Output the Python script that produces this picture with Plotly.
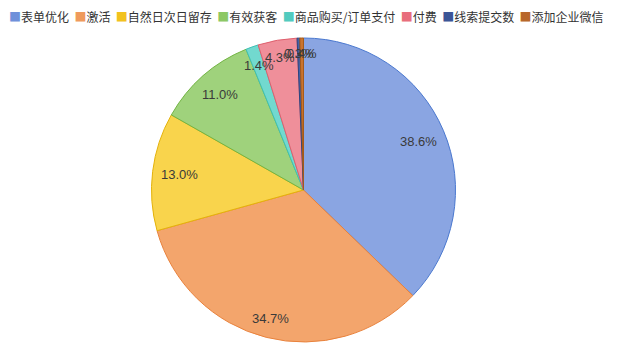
import math
import plotly.graph_objects as go

# ---- data ----
categories = ["表单优化", "激活", "自然日次日留存", "有效获客",
              "商品购买/订单支付", "付费", "线索提交数", "添加企业微信"]
values = [38.6, 34.7, 13.0, 11.0, 1.4, 4.3, 0.3, 0.4]
label_texts = [f"{v:.1f}%" for v in values]

# ---- styles ----
fill_colors = ["#8aa5e2", "#f3a56c", "#f9d44c", "#9fd27c",
               "#72d9cf", "#ef8f9a", "#4462a8", "#c9742e"]
line_colors = ["#4a78cf", "#e9823c", "#e4b20a", "#72b443",
               "#3fc0b5", "#df5f6d", "#2b4580", "#a65a18"]
legend_colors = ["#6f90da", "#ef9a5c", "#f2c21e", "#8cc865",
                 "#52cbbf", "#e86e7c", "#3c5596", "#b8672a"]

W, H = 625, 351
CX, CY = 303.5, 190.0   # pie centre in px (from top-left)
R = 152.0               # pie radius in px

fig = go.Figure()
fig.add_trace(go.Pie(
    labels=categories,
    values=values,
    sort=False,
    direction="clockwise",
    rotation=0,
    textinfo="none",
    hoverinfo="label+value",
    marker=dict(colors=fill_colors, line=dict(color=line_colors, width=1)),
    domain=dict(x=[(CX - R) / W, (CX + R) / W],
                y=[(H - CY - R) / H, (H - CY + R) / H]),
    showlegend=False,
))

# ---- slice labels (positions derived from the data) ----
total = sum(values)
cum = 0.0
annotations = []
FONT_PX = 13
for v, txt in zip(values, label_texts):
    th = 2 * math.pi * (cum + v / 2) / total
    cum += v
    s, c = math.sin(th), math.cos(th)
    w = sum(3.6 if ch == "." else (11.6 if ch == "%" else 7.2) for ch in txt)
    h = FONT_PX
    target = 0.95 * R
    lo, hi = 0.0, R
    for _ in range(50):
        mid = (lo + hi) / 2
        x = mid * s + math.copysign(w / 2, s)
        y = mid * c + math.copysign(h / 2, c)
        if math.hypot(x, y) > target:
            hi = mid
        else:
            lo = mid
    r = lo
    px = CX + r * s
    py = CY - r * c
    annotations.append(dict(
        x=px / W, y=1 - py / H, xref="paper", yref="paper",
        text=txt, showarrow=False, xanchor="center", yanchor="middle",
        font=dict(family="Liberation Sans, Arial, sans-serif", size=FONT_PX, color="#3a3a3a"),
    ))

# ---- legend row (single line, like the reference) ----
parts = []
for name, col in zip(categories, legend_colors):
    parts.append(f"<span style='color:{col}'>■</span>{name}")
legend_text = "\u00a0\u00a0".join(parts)
annotations.append(dict(
    x=7 / W, y=1 - 16 / H, xref="paper", yref="paper",
    text=legend_text, showarrow=False, xanchor="left", yanchor="middle",
    font=dict(family="Noto Sans CJK SC, sans-serif", size=12, color="#333333"),
))

fig.update_layout(
    width=W, height=H,
    margin=dict(l=0, r=0, t=0, b=0),
    paper_bgcolor="white", plot_bgcolor="white",
    annotations=annotations,
)

fig.write_html("out.html")
